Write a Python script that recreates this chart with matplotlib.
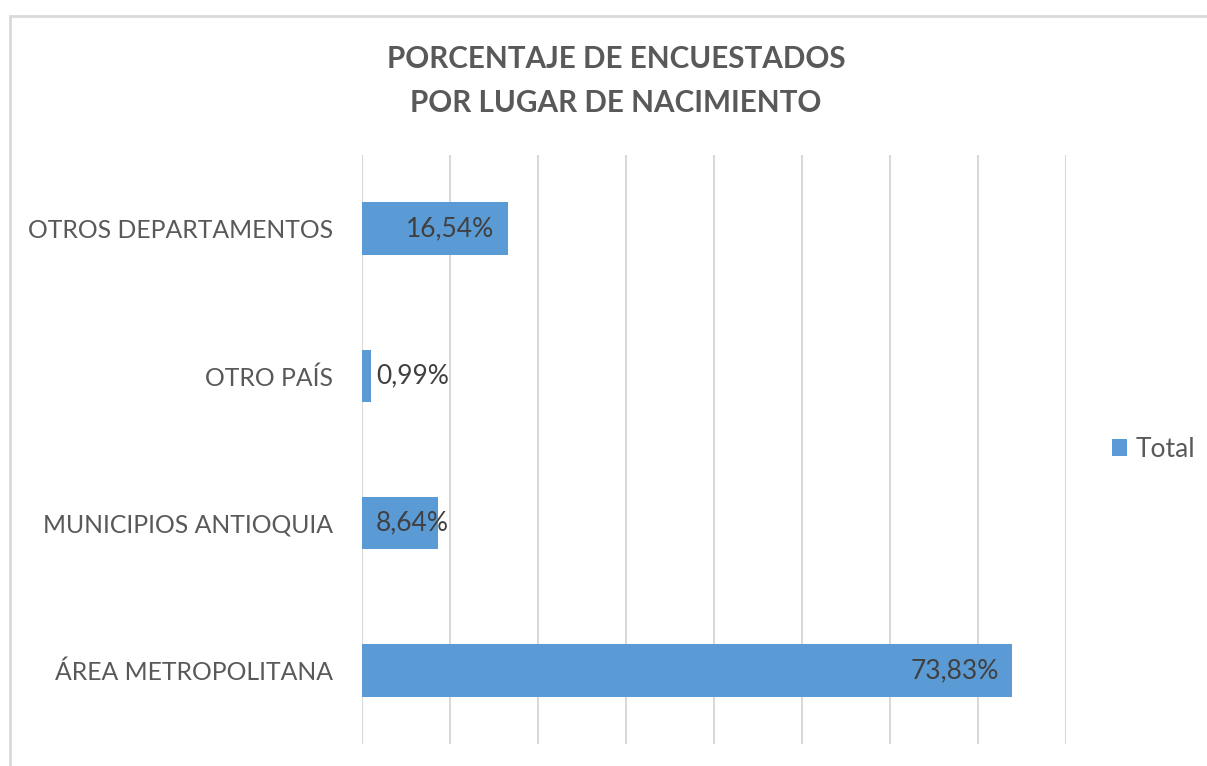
import matplotlib.pyplot as plt
from matplotlib.patches import Rectangle

categorias = ["ÁREA METROPOLITANA", "MUNICIPIOS ANTIOQUIA", "OTRO PAÍS", "OTROS DEPARTAMENTOS"]
valores = [73.83, 8.64, 0.99, 16.54]
etiquetas = ["73,83%", "8,64%", "0,99%", "16,54%"]
serie = "Total"

plt.rcParams['font.family'] = ['Lato', 'DejaVu Sans']
azul = "#5B9BD5"
gris = "#595959"

fig = plt.figure(figsize=(12.07, 7.66), dpi=100)
fig.patches.append(Rectangle((10 / 1207, -0.1), 1.2, 1 - 16 / 766 + 0.1,
                             transform=fig.transFigure, fill=False,
                             edgecolor="#d9d9d9", linewidth=2))

ax = fig.add_axes([362 / 1207, 1 - 744 / 766, 704 / 1207, 589 / 766])
y = range(len(categorias))
ax.barh(y, valores, height=0.355, color=azul, label=serie)
ax.set_xlim(0, 80)
ax.set_ylim(-0.5, len(categorias) - 0.5)
ax.set_xticks(range(0, 81, 10))
ax.tick_params(axis='x', length=0, labelbottom=False)
ax.tick_params(axis='y', length=0, pad=21, labelsize=17.8, labelcolor=gris)
ax.set_yticks(list(y))
ax.set_yticklabels(categorias)
ax.grid(axis='x', color="#d9d9d9", linewidth=1.5)
ax.set_axisbelow(True)
for s in ax.spines.values():
    s.set_visible(False)

for i, (v, t) in enumerate(zip(valores, etiquetas)):
    if v > 12:
        ax.text(v - 1.5, i, t, ha='right', va='center', fontsize=19, color="#404040")
    else:
        ax.text(1.6, i, t, ha='left', va='center', fontsize=19, color="#404040")

fig.text(616 / 1207, 1 - 81 / 766, "PORCENTAJE DE ENCUESTADOS\nPOR LUGAR DE NACIMIENTO",
         ha='center', va='center', fontsize=21.3, fontweight='bold', color=gris,
         linespacing=1.7)

ax.legend(loc='center left', bbox_to_anchor=(1.031, 0.5), frameon=False,
          fontsize=19, labelcolor=gris, handlelength=0.6, handleheight=0.6,
          handletextpad=0.3)

fig.savefig("out.png", dpi=100)
